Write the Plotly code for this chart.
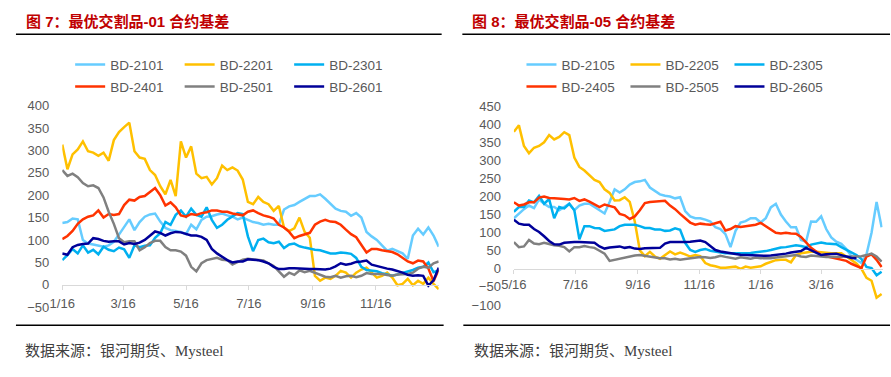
import plotly.graph_objects as go
import pandas as pd

W, H = 891, 377

# ---------------- data ----------------
left_start = "2023-01-16"
right_start = "2023-05-16"
day_offsets = list(range(0, 366, 5))  # sampling every 5 days

left_names = ["BD-2101", "BD-2201", "BD-2301", "BD-2401", "BD-2501", "BD-2601"]
right_names = ["BD-2105", "BD-2205", "BD-2305", "BD-2405", "BD-2505", "BD-2605"]

bd2101 = [138, 140, 148, 146, 100, 92, 90, 88, 85, 88,
          96, 112, 130, 146, 122, 140, 152, 157, 159, 141,
          127, 122, 120, 118, 113, 134, 124, 145, 152, 153,
          157, 159, 155, 152, 146, 150, 145, 140, 138, 134,
          136, 134, 134, 168, 175, 178, 185, 192, 198, 198,
          202, 192, 180, 170, 165, 163, 154, 160, 150, 118,
          108, 100, 88, 76, 80, 75, 70, 58, 110, 125,
          112, 128, 110, 85]
bd2201 = [313, 258, 291, 302, 320, 298, 295, 288, 295, 277,
          323, 341, 352, 362, 298, 284, 281, 256, 245, 220,
          202, 234, 198, 320, 284, 309, 248, 238, 241, 224,
          238, 266, 256, 262, 255, 235, 185, 180, 196, 185,
          180, 165, 176, 128, 120, 126, 150, 118, 105, 20,
          9, 16, 13, 20, 31, 27, 16, 27, 34, 38,
          27, 16, 20, 27, 16, -1, 2, 13, -1, 9,
          2, 16, 2, -10]
bd2301 = [55, 66, 80, 70, 88, 72, 78, 68, 85, 78,
          75, 83, 79, 60, 88, 84, 87, 88, 105, 115,
          140, 134, 156, 166, 152, 170, 156, 152, 173, 145,
          127, 134, 145, 152, 160, 158, 108, 75, 100, 103,
          95, 93, 96, 82, 90, 92, 86, 83, 80, 78,
          77, 73, 70, 70, 72, 71, 69, 60, 40, 33,
          31, 30, 26, 23, 20, 23, 26, 30, 33, 38,
          40, 50, 28, 32]
bd2401 = [102, 109, 120, 136, 146, 152, 155, 166, 150, 158,
          156, 158, 178, 190, 188, 196, 198, 206, 216, 200,
          177, 184, 173, 155, 152, 158, 156, 160, 162, 166,
          166, 163, 163, 159, 157, 155, 163, 166, 160, 155,
          152, 148, 134, 128, 118, 104, 109, 112, 116, 134,
          141, 145, 141, 140, 134, 123, 113, 106, 88, 72,
          80, 80, 77, 75, 73, 68, 60, 52, 48, 54,
          52, 36, 8, 34]
bd2501 = [256, 243, 248, 240, 227, 220, 222, 216, 195, 163,
          136, 104, 95, 97, 97, 77, 84, 93, 98, 98,
          84, 77, 77, 74, 65, 40, 30, 48, 55, 58,
          60, 56, 55, 45, 50, 56, 58, 57, 55, 54,
          48, 42, 30, 18, 27, 22, 32, 28, 31, 27,
          22, 18, 17, 20, 16, 19, 20, 17, 20, 26,
          24, 24, 24, 22, 20, 23, 24, 24, 27, 36,
          40, 38, 48, 52]
bd2601 = [70, 67, 84, 89, 91, 92, 104, 102, 98, 96,
          97, 97, 90, 93, 91, 94, 100, 110, 119, 116,
          110, 115, 118, 117, 114, 110, 110, 107, 100, 80,
          70, 63, 55, 50, 52, 52, 57, 56, 55, 52,
          48, 40, 35, 35, 37, 37, 36, 36, 35, 35,
          34, 34, 36, 41, 48, 45, 47, 51, 52, 54,
          45, 42, 38, 36, 34, 31, 27, 22, 20, 21,
          20, -2, 10, 38]

bd2105 = [140, 153, 165, 175, 168, 192, 180, 171, 171, 162,
          171, 180, 162, 175, 180, 180, 171, 162, 153, 185,
          220, 211, 220, 233, 240, 242, 246, 225, 215, 206,
          202, 200, 195, 198, 160, 145, 140, 140, 136, 131,
          115, 110, 96, 60, 105, 128, 132, 140, 140, 128,
          140, 170, 180, 150, 131, 115, 115, 80, 75, 131,
          130, 145, 110, 87, 75, 69, 55, 35, 25, 16,
          40, 100, 185, 115]
bd2205 = [379, 397, 340, 320, 335, 340, 350, 370, 358, 365,
          378, 370, 308, 282, 272, 258, 246, 240, 220, 210,
          189, 190, 198, 185, 131, 51, 35, 47, 34, 28,
          38, 48, 40, 45, 40, 34, 38, 35, 16, 10,
          7, 3, 3, 5, 6, 0, 6, 3, 5, 7,
          14, 20, 24, 25, 25, 18, 38, 43, 46, 47,
          47, 45, 43, 43, 43, 43, 34, 25, 15, 0,
          -25, -33, -80, -70]
bd2305 = [158, 171, 171, 189, 184, 202, 180, 193, 140, 171,
          167, 180, 162, 82, 118, 118, 113, 112, 105, 106,
          109, 118, 122, 122, 122, 118, 113, 113, 109, 109,
          105, 106, 112, 108, 72, 52, 47, 52, 55, 50,
          47, 44, 43, 43, 43, 43, 43, 44, 46, 47,
          49, 52, 56, 59, 60, 62, 65, 63, 60, 67,
          71, 73, 70, 70, 68, 60, 52, 44, 38, 27,
          5, 2, -18, -8]
bd2405 = [184, 175, 178, 184, 184, 197, 200, 196, 195, 193,
          193, 192, 196, 188, 192, 186, 178, 171, 178, 173,
          170, 152, 148, 138, 145, 162, 182, 185, 186, 189,
          188, 175, 165, 152, 140, 128, 122, 125, 123, 122,
          126, 130, 106, 110, 118, 116, 118, 120, 122, 127,
          118, 108, 100, 98, 100, 98, 97, 88, 72, 58,
          48, 38, 35, 32, 28, 25, 22, 14, 8, 2,
          34, 40, 25, 5]
bd2505 = [74, 60, 62, 80, 70, 68, 72, 68, 65, 64,
          60, 48, 60, 60, 63, 60, 58, 50, 42, 22,
          25, 30, 32, 34, 37, 38, 36, 33, 30, 29,
          29, 26, 28, 25, 27, 29, 30, 33, 32, 30,
          32, 36, 33, 30, 28, 32, 30, 28, 31, 29,
          30, 29, 31, 33, 33, 35, 38, 34, 33, 37,
          35, 33, 33, 33, 33, 34, 34, 33, 33, 35,
          38, 42, 34, 20]
bd2605 = [136, 125, 122, 122, 110, 102, 90, 77, 68, 67,
          72, 74, 74, 74, 74, 73, 72, 62, 56, 59,
          60, 62, 58, 60, 56, 55, 57, 58, 58, 58,
          70, 74, 74, 73, 74, 75, 76, 78, 74, 64,
          52, 48, 45, 43, 41, 39, 38, 37, 36, 35,
          36, 37, 38, 39, 42, 45, 47, 49, 58, 52,
          45, 38, 40, 42, 42, 38, 34, 30, 29, None,
          None, None, None, None]

left_series = [bd2101, bd2201, bd2301, bd2401, bd2501, bd2601]
right_series = [bd2105, bd2205, bd2305, bd2405, bd2505, bd2605]
colors = ["#66CCFF", "#FFC000", "#00B0F0", "#FF3300", "#808080", "#000099"]

left_ticks = ["2023-01-16", "2023-03-16", "2023-05-16", "2023-07-16", "2023-09-16", "2023-11-16"]
left_ticktext = ["1/16", "3/16", "5/16", "7/16", "9/16", "11/16"]
right_ticks = ["2023-05-16", "2023-07-16", "2023-09-16", "2023-11-16", "2024-01-16", "2024-03-16"]
right_ticktext = ["5/16", "7/16", "9/16", "11/16", "1/16", "3/16"]

left_yticks = [-50, 0, 50, 100, 150, 200, 250, 300, 350, 400]
right_yticks = [-100, -50, 0, 50, 100, 150, 200, 250, 300, 350, 400, 450]

left_x = list(pd.Timestamp(left_start) + pd.to_timedelta(day_offsets, unit="D"))
right_x = list(pd.Timestamp(right_start) + pd.to_timedelta(day_offsets, unit="D"))

# ---------------- figure ----------------
def px(x):
    return x / W

def py(y):
    return 1 - y / H

fig = go.Figure()
legend_ids = ["legend", "legend", "legend", "legend2", "legend2", "legend2"]
legend_ids_r = ["legend3", "legend3", "legend3", "legend4", "legend4", "legend4"]
for name, vals, col, lg in zip(left_names, left_series, colors, legend_ids):
    fig.add_trace(go.Scatter(x=left_x, y=vals, name=name, mode="lines",
                             line=dict(color=col, width=2.5), xaxis="x", yaxis="y",
                             legend=lg))
for name, vals, col, lg in zip(right_names, right_series, colors, legend_ids_r):
    fig.add_trace(go.Scatter(x=right_x, y=vals, name=name, mode="lines",
                             line=dict(color=col, width=2.5), xaxis="x2", yaxis="y2",
                             legend=lg, connectgaps=False))

tickfont = dict(family="Liberation Sans, Arial, sans-serif", size=13, color="#595959")
axcol = "#D9D9D9"

ly_dom = [py(312.6), py(102.7)]
ry_dom = [py(310.3), py(103.3)]
lrange = [-50, 400]
rrange = [-100, 450]
lpos = ly_dom[0] + (0 - lrange[0]) / (lrange[1] - lrange[0]) * (ly_dom[1] - ly_dom[0])
rpos = ry_dom[0] + (0 - rrange[0]) / (rrange[1] - rrange[0]) * (ry_dom[1] - ry_dom[0])

common_x = dict(type="date", showgrid=False, zeroline=False, showline=True,
                linecolor=axcol, linewidth=1, ticks="outside", ticklen=4,
                tickcolor=axcol, tickfont=tickfont, anchor="free")
common_y = dict(showgrid=False, zeroline=False, showline=False, ticks="",
                tickfont=tickfont, ticklabelstandoff=12)

fig.update_layout(
    width=W, height=H,
    margin=dict(l=0, r=0, t=0, b=0),
    paper_bgcolor="white", plot_bgcolor="white",
    xaxis=dict(domain=[px(50), px(432)], range=["2023-01-16", "2024-01-16"],
               tickvals=left_ticks, ticktext=left_ticktext, position=lpos,
               ticklabelstandoff=3, **common_x),
    yaxis=dict(domain=ly_dom, range=lrange, tickvals=left_yticks, anchor="x", **common_y),
    xaxis2=dict(domain=[px(508.3), px(882.5)], range=["2023-05-16", "2024-05-16"],
                tickvals=right_ticks, ticktext=right_ticktext, position=rpos,
                ticklabelstandoff=0, **common_x),
    yaxis2=dict(domain=ry_dom, range=rrange, tickvals=right_yticks, anchor="x2", **common_y),
    showlegend=True,
)

legfont = dict(family="Liberation Sans, Arial, sans-serif", size=13.5, color="#595959")
def leg(x, y, ew):
    return dict(orientation="h", x=x, y=y, xanchor="left", yanchor="middle",
                font=legfont, bgcolor="rgba(0,0,0,0)", entrywidth=ew,
                entrywidthmode="pixels", tracegroupgap=0)

fig.update_layout(
    legend=leg(px(58), py(60), 64.5),
    legend2=leg(px(58), py(83), 64.5),
    legend3=leg(px(516), py(60), 59),
    legend4=leg(px(516), py(83), 59),
)

# titles, rules and sources
title_font = dict(family="Liberation Sans, Noto Sans CJK SC, sans-serif", size=15, color="#C00000")
src_font = dict(family="Liberation Serif, Noto Sans CJK SC, serif", size=15, color="#404040")
annos = [
    (11, 15, "<b>图 7：最优交割品-01 合约基差</b>", title_font),
    (464, 15, "<b>图 8：最优交割品-05 合约基差</b>", title_font),
    (10, 358, "数据来源：银河期货、Mysteel", src_font),
    (466, 358, "数据来源：银河期货、Mysteel", src_font),
]
for x, y, t, f in annos:
    fig.add_annotation(x=px(x), y=py(y), xref="paper", yref="paper", text=t,
                       showarrow=False, xanchor="left", yanchor="middle", font=f)

for x0, x1, y in [(3, 435, 28.3), (456, 890, 28.3), (3, 437, 331.5), (457, 890, 331.5)]:
    fig.add_shape(type="line", xref="paper", yref="paper", x0=px(x0), x1=px(x1),
                  y0=py(y), y1=py(y), line=dict(color="black", width=1.5))

fig.write_html("out.html", config={"displayModeBar": False},
               post_script="document.body.style.margin='0px';")
